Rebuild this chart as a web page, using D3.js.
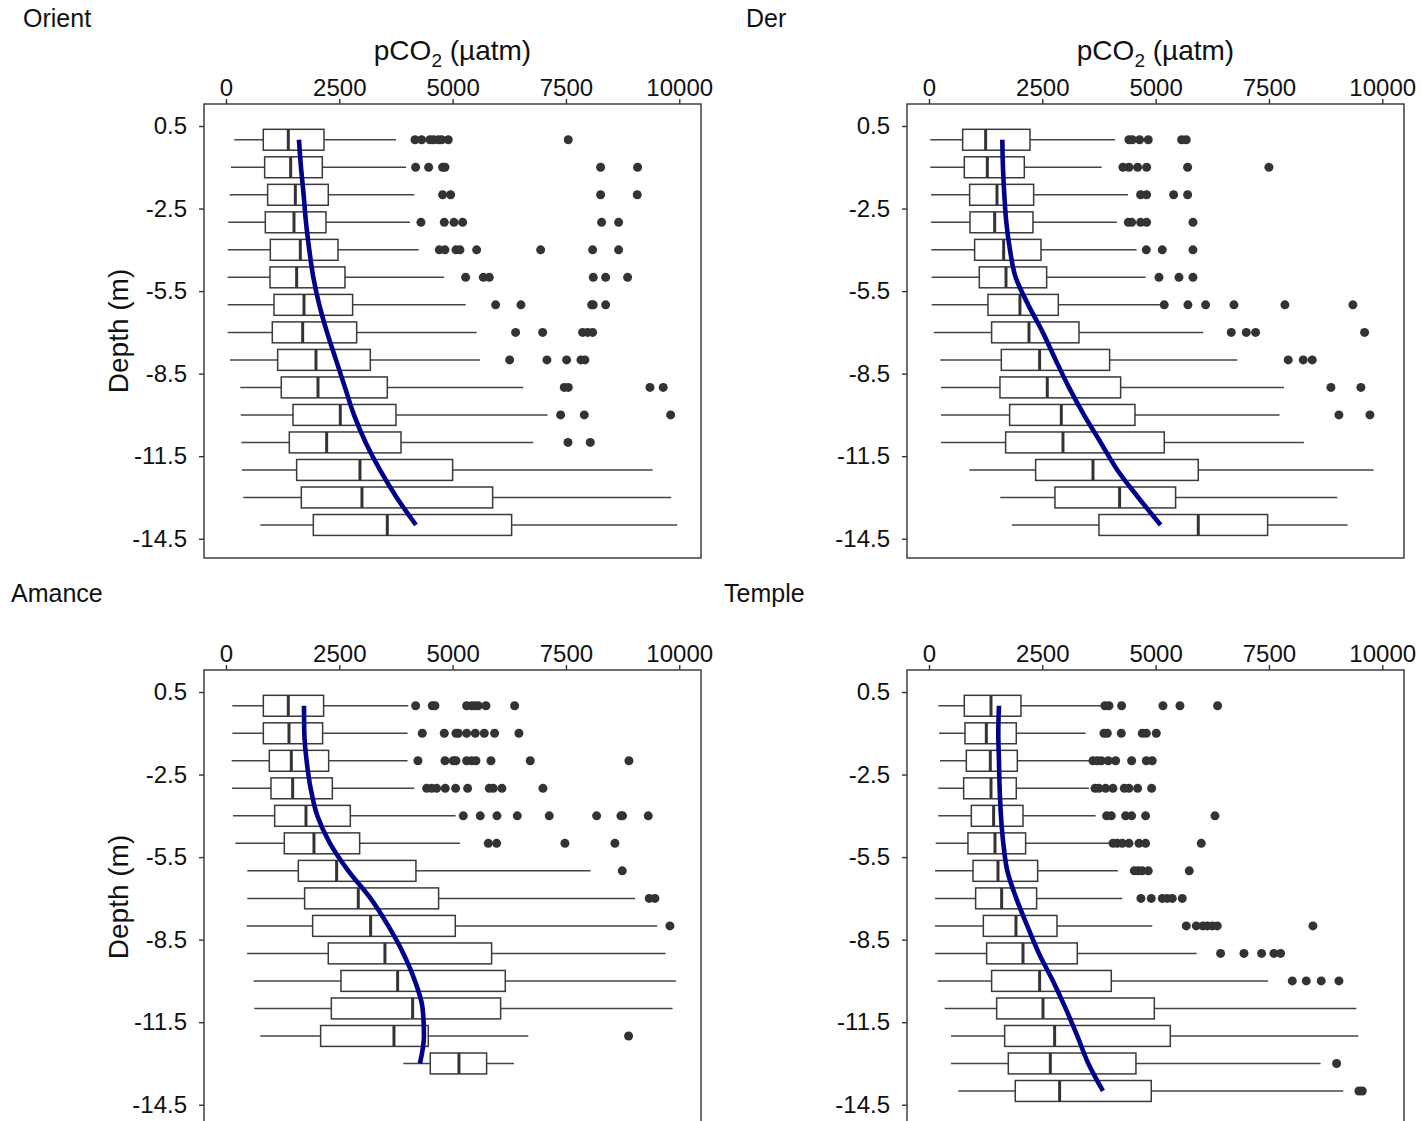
<!DOCTYPE html>
<html>
<head>
<meta charset="utf-8">
<script src="https://cdn.jsdelivr.net/npm/d3@7"></script>
<style>
body { margin: 0; background: #fff; }
text { font-family: "Liberation Sans", Arial, sans-serif; fill: #111; }
</style>
</head>
<body>
<div id="chart"></div>
<script>
var depths = [0, -1, -2, -3, -4, -5, -6, -7, -8, -9, -10, -11, -12, -13, -14];
var xTicks = [0, 2500, 5000, 7500, 10000];
var yTicks = [0.5, -2.5, -5.5, -8.5, -11.5, -14.5];

//Orient
var orientLow = [184, 110, 81, 51, 37, 37, 37, 37, 88, 316, 324, 338, 353, 382, 757];
var orientQ1 = [823, 853, 919, 868, 978, 971, 1059, 1022, 1140, 1220, 1478, 1397, 1559, 1662, 1927];
var orientMed = [1375, 1427, 1530, 1500, 1640, 1559, 1721, 1692, 1985, 2030, 2522, 2221, 2956, 3000, 3559];
var orientQ3 = [2162, 2125, 2257, 2206, 2471, 2625, 2794, 2883, 3184, 3559, 3750, 3861, 5000, 5883, 6302];
var orientHigh = [3750, 3971, 4154, 4059, 4250, 4809, 5287, 5530, 5603, 6559, 7096, 6780, 9412, 9824, 9956];
var orientOut = [
  [4170, 4317, 4500, 4574, 4684, 4758, 4904, 7551],
  [4184, 4471, 4779, 4831, 8265, 9081],
  [4779, 4956, 8265, 9073],
  [4302, 4816, 5030, 5221, 8287, 8662],
  [4706, 4831, 5074, 5162, 5530, 6942, 8089, 8662],
  [5287, 5677, 5809, 8103, 8376, 8861],
  [5949, 6508, 8067, 8103, 8376],
  [6390, 6986, 7868, 7979, 8089],
  [6258, 7081, 7515, 7831, 7920],
  [7464, 7552, 9354, 9647],
  [7383, 7905, 9810],
  [7545, 8037],
  [], [], []
];
var orientFit = [1610, 1655, 1713, 1765, 1838, 1927, 2059, 2230, 2427, 2625, 2824, 3081, 3397, 3765, 4191];

//Der
var derLow = [29, 29, 44, 44, 51, 59, 59, 103, 250, 265, 265, 265, 890, 1574, 1831];
var derQ1 = [743, 779, 897, 904, 1007, 1110, 1301, 1382, 1596, 1566, 1779, 1691, 2353, 2779, 3750];
var derMed = [1250, 1287, 1500, 1449, 1647, 1699, 2007, 2206, 2441, 2610, 2919, 2956, 3618, 4206, 5941];
var derQ3 = [2228, 2103, 2309, 2294, 2471, 2596, 2853, 3309, 3985, 4228, 4544, 5191, 5941, 5441, 7471];
var derHigh = [4103, 3809, 4390, 4147, 4581, 4779, 5120, 6052, 6802, 7831, 7735, 8272, 9809, 9007, 9235];
var derOut = [
  [4412, 4485, 4647, 4838, 5574, 5676],
  [4279, 4412, 4603, 4801, 5706, 7500],
  [4669, 4801, 5397, 5706],
  [4397, 4471, 4669, 4801, 5824],
  [4794, 5147, 5824],
  [5074, 5515, 5824],
  [5190, 5713, 6103, 6728, 7853, 9353],
  [6669, 7000, 7206, 9611],
  [7926, 8257, 8456],
  [8868, 9529],
  [9044, 9728],
  [], [], [], []
];
var derFit = [1618, 1632, 1662, 1706, 1787, 1912, 2190, 2510, 2794, 3088, 3419, 3787, 4154, 4618, 5110];

//Amance (no data at -14 m)
var amanceLow = [140, 140, 125, 132, 154, 206, 471, 471, 456, 463, 610, 625, 757, 3912];
var amanceQ1 = [824, 824, 956, 993, 1074, 1287, 1596, 1735, 1912, 2257, 2537, 2324, 2088, 4507];
var amanceMed = [1375, 1390, 1441, 1471, 1765, 1941, 2441, 2919, 3191, 3507, 3787, 4118, 3706, 5140];
var amanceQ3 = [2154, 2132, 2265, 2346, 2743, 2949, 4191, 4691, 5059, 5860, 6162, 6059, 4463, 5750];
var amanceHigh = [4022, 4007, 4007, 4154, 5066, 5162, 8044, 9029, 9515, 9699, 9926, 9853, 6669, 6353];
var amanceOut = [
  [4184, 4551, 4610, 5309, 5419, 5493, 5566, 5735, 6368],
  [4331, 4816, 5074, 5125, 5309, 5500, 5699, 5926, 6463],
  [4235, 4831, 5015, 5074, 5309, 5419, 5515, 5846, 6713, 8890],
  [4427, 4537, 4647, 4838, 5066, 5331, 5809, 5897, 6088, 6993],
  [5235, 5610, 5978, 6427, 7132, 8177, 8713, 8750, 9316],
  [5787, 5971, 7478, 8581],
  [8743],
  [9338, 9463],
  [9794],
  [], [], [],
  [8882],
  []
];
var amanceFit = [1721, 1728, 1779, 1868, 2015, 2294, 2699, 3190, 3581, 3912, 4169, 4338, 4368, 4279];

//Temple
var templeLow = [206, 221, 243, 206, 206, 147, 132, 132, 132, 132, 191, 346, 485, 485, 647];
var templeQ1 = [779, 794, 824, 765, 934, 860, 971, 1029, 1199, 1272, 1382, 1493, 1669, 1750, 1904];
var templeMed = [1368, 1265, 1353, 1368, 1426, 1456, 1522, 1603, 1919, 2074, 2441, 2515, 2772, 2677, 2882];
var templeQ3 = [2029, 1926, 1949, 1926, 2074, 2132, 2397, 2375, 2824, 3272, 4022, 4971, 5324, 4566, 4904];
var templeHigh = [3838, 3456, 3566, 3530, 3677, 4081, 4169, 4265, 4926, 5904, 7478, 9427, 9471, 8640, 9140];
var templeOut = [
  [3882, 3971, 4250, 5162, 5537, 6368],
  [3860, 3934, 4243, 4706, 4794, 5015],
  [3618, 3713, 3801, 3956, 4118, 4471, 4794, 4926],
  [3662, 3750, 3897, 4059, 4309, 4412, 4603, 4912],
  [3919, 4022, 4338, 4471, 4779, 6309],
  [4059, 4154, 4265, 4412, 4632, 4779, 6007],
  [4529, 4618, 4706, 4838, 5743],
  [4676, 4904, 5147, 5257, 5368, 5588],
  [5676, 5897, 6044, 6140, 6250, 6360, 8471],
  [6434, 6949, 7338, 7610, 7757],
  [8015, 8324, 8654, 9044],
  [], [],
  [8993],
  [9485, 9559]
];
var templeFit = [1544, 1529, 1544, 1559, 1588, 1640, 1728, 1926, 2169, 2426, 2735, 3015, 3272, 3515, 3838];

document.addEventListener('DOMContentLoaded', function(){
  makeChart();
}, false);

function makeChart(){
  var svg = d3.select("#chart").append("svg")
      .attr("width", 1421)
      .attr("height", 1121);

  var panels = [
    {name: "Orient", left: 204, top: 104, tx: 23, ty: 27, xTitle: true, yTitle: true,
     low: orientLow, q1: orientQ1, med: orientMed, q3: orientQ3, high: orientHigh, out: orientOut, fit: orientFit},
    {name: "Der", left: 907, top: 104, tx: 746, ty: 27, xTitle: true, yTitle: false,
     low: derLow, q1: derQ1, med: derMed, q3: derQ3, high: derHigh, out: derOut, fit: derFit},
    {name: "Amance", left: 204, top: 670, tx: 11, ty: 602, xTitle: false, yTitle: true,
     low: amanceLow, q1: amanceQ1, med: amanceMed, q3: amanceQ3, high: amanceHigh, out: amanceOut, fit: amanceFit},
    {name: "Temple", left: 907, top: 670, tx: 724, ty: 602, xTitle: false, yTitle: false,
     low: templeLow, q1: templeQ1, med: templeMed, q3: templeQ3, high: templeHigh, out: templeOut, fit: templeFit}
  ];

  panels.forEach(function(p){ drawPanel(svg, p); });
}

function drawPanel(svg, p){
  var width = 497, height = 454;

  svg.append("text")
      .attr("x", p.tx)
      .attr("y", p.ty)
      .style("font-size", "25px")
      .text(p.name);

  var g = svg.append("g")
      .attr("transform", "translate(" + p.left + "," + p.top + ")");

  var xScale = d3.scaleLinear().domain([-485, 10480]).range([0, width]);
  var yScale = d3.scaleLinear().domain([1.3, -15.2]).range([0, height]);

  var rows = p.q1.map(function(d, i){
    return {depth: depths[i], low: p.low[i], q1: p.q1[i], med: p.med[i], q3: p.q3[i], high: p.high[i], out: p.out[i], fit: p.fit[i]};
  });

  var half = (yScale(0) - yScale(0.38));

  //whiskers
  g.selectAll(".whisker")
      .data(rows)
      .enter().append("line")
      .attr("class", "whisker")
      .attr("x1", function(d){ return xScale(d.low); })
      .attr("x2", function(d){ return xScale(d.high); })
      .attr("y1", function(d){ return yScale(d.depth); })
      .attr("y2", function(d){ return yScale(d.depth); })
      .attr("stroke", "#454545")
      .attr("stroke-width", 1.5);

  //boxes
  g.selectAll(".box")
      .data(rows)
      .enter().append("rect")
      .attr("class", "box")
      .attr("x", function(d){ return xScale(d.q1); })
      .attr("width", function(d){ return xScale(d.q3) - xScale(d.q1); })
      .attr("y", function(d){ return yScale(d.depth) - half; })
      .attr("height", half * 2)
      .attr("fill", "#fff")
      .attr("stroke", "#3a3a3a")
      .attr("stroke-width", 1.5);

  g.selectAll(".median")
      .data(rows)
      .enter().append("line")
      .attr("class", "median")
      .attr("x1", function(d){ return xScale(d.med); })
      .attr("x2", function(d){ return xScale(d.med); })
      .attr("y1", function(d){ return yScale(d.depth) - half; })
      .attr("y2", function(d){ return yScale(d.depth) + half; })
      .attr("stroke", "#333")
      .attr("stroke-width", 3);

  //outliers
  var pts = [];
  rows.forEach(function(d){
    d.out.forEach(function(v){ pts.push({depth: d.depth, v: v}); });
  });
  g.selectAll(".dot")
      .data(pts)
      .enter().append("circle")
      .attr("class", "dot")
      .attr("cx", function(d){ return xScale(d.v); })
      .attr("cy", function(d){ return yScale(d.depth); })
      .attr("r", 4.5)
      .attr("fill", "#333");

  //fitted line
  var line = d3.line()
      .x(function(d){ return xScale(d.fit); })
      .y(function(d){ return yScale(d.depth); })
      .curve(d3.curveMonotoneY);
  g.append("path")
      .datum(rows)
      .attr("d", line)
      .attr("fill", "none")
      .attr("stroke", "#00008b")
      .attr("stroke-width", 4.6);

  //border
  g.append("rect")
      .attr("width", width)
      .attr("height", height)
      .attr("fill", "none")
      .attr("stroke", "#333")
      .attr("stroke-width", 1.4);

  var xAxis = g.append("g")
      .attr("class", "x axis")
      .call(d3.axisTop(xScale).tickValues(xTicks).tickSize(5).tickPadding(3).tickFormat(function(d){ return String(d); }));
  var yAxis = g.append("g")
      .attr("class", "y axis")
      .call(d3.axisLeft(yScale).tickValues(yTicks).tickSize(5).tickPadding(12).tickFormat(function(d){ return String(d); }));

  [xAxis, yAxis].forEach(function(a){
    a.select(".domain").remove();
    a.selectAll("line").attr("stroke", "#333").attr("stroke-width", 1.4);
    a.selectAll("text")
        .style("font-size", "24px")
        .style("font-family", "'Liberation Sans', Arial, sans-serif")
        .attr("fill", "#111");
  });

  if (p.xTitle){
    var t = g.append("text")
        .attr("x", width / 2)
        .attr("y", -44)
        .attr("text-anchor", "middle")
        .style("font-size", "28px");
    t.append("tspan").text("pCO");
    t.append("tspan").attr("dy", 7).style("font-size", "19px").text("2");
    t.append("tspan").attr("dy", -7).text(" (µatm)");
  }
  if (p.yTitle){
    g.append("text")
        .attr("transform", "translate(" + (-p.left + 128) + "," + (height / 2) + ") rotate(-90)")
        .attr("text-anchor", "middle")
        .style("font-size", "28px")
        .text("Depth (m)");
  }
}
</script>
</body>
</html>
